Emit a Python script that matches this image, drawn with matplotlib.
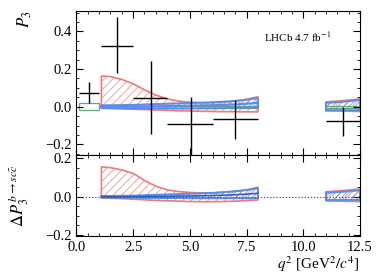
import numpy as np
import matplotlib
matplotlib.use("Agg")
import matplotlib.pyplot as plt
from matplotlib.patches import Rectangle

plt.rcParams['font.family'] = ['Liberation Serif', 'DejaVu Serif']
plt.rcParams['mathtext.fontset'] = 'stix'
plt.rcParams['hatch.linewidth'] = 0.6

# --- data ---------------------------------------------------------------
# measured P3 per q2 bin
bin_lo = [0.1, 1.1, 2.5, 4.0, 6.0, 11.0]
bin_hi = [0.98, 2.5, 4.0, 6.0, 8.0, 12.5]
q2_pt = [0.56, 1.80, 3.28, 5.03, 7.01, 11.76]
p3 = [0.074, 0.324, 0.048, -0.092, -0.067, -0.076]
p3_up = [0.059, 0.150, 0.196, 0.145, 0.103, 0.076]
p3_dn = [0.056, 0.147, 0.194, 0.200, 0.106, 0.079]

# SM binned prediction (green boxes)
sm_val = [0.0, 0.0, 0.0, 0.0, 0.0, 0.0]
sm_err = [0.018, 0.005, 0.005, 0.005, 0.005, 0.005]

# model bands, low-q2 segment
q2_a = [1.1, 1.5, 2.0, 2.5, 3.0, 3.5, 4.0, 4.5, 5.0, 5.5, 6.0, 6.5, 7.0, 7.5, 8.0]
red_up_a = [0.163, 0.160, 0.145, 0.122, 0.090, 0.062, 0.042, 0.030, 0.024, 0.021, 0.021, 0.024, 0.030, 0.040, 0.053]
red_lo_a = [-0.008, -0.009, -0.011, -0.013, -0.015, -0.017, -0.019, -0.021, -0.022, -0.024, -0.025, -0.026, -0.026, -0.027, -0.027]
blue_up_a = [0.008, 0.008, 0.009, 0.010, 0.012, 0.014, 0.016, 0.018, 0.020, 0.022, 0.024, 0.027, 0.031, 0.037, 0.045]
blue_lo_a = [-0.006, -0.007, -0.008, -0.008, -0.009, -0.009, -0.009, -0.009, -0.009, -0.008, -0.008, -0.007, -0.006, -0.005, -0.003]

# model bands, high-q2 segment
q2_b = [11.0, 11.5, 12.0, 12.5]
red_up_b = [0.026, 0.030, 0.035, 0.042]
red_lo_b = [-0.022, -0.023, -0.024, -0.025]
blue_up_b = [0.021, 0.024, 0.029, 0.036]
blue_lo_b = [-0.018, -0.018, -0.018, -0.018]

# Delta P3 (b -> s c cbar) bands
d_red_up_a = [0.156, 0.152, 0.140, 0.122, 0.085, 0.055, 0.036, 0.027, 0.022, 0.020, 0.020, 0.023, 0.028, 0.036, 0.050]
d_red_lo_a = [-0.006, -0.008, -0.010, -0.013, -0.016, -0.019, -0.021, -0.023, -0.025, -0.026, -0.026, -0.025, -0.023, -0.020, -0.017]
d_blue_up_a = [0.004, 0.004, 0.005, 0.006, 0.008, 0.010, 0.012, 0.014, 0.016, 0.018, 0.020, 0.024, 0.029, 0.035, 0.044]
d_blue_lo_a = [-0.004, -0.004, -0.005, -0.005, -0.006, -0.006, -0.007, -0.007, -0.008, -0.008, -0.008, -0.008, -0.008, -0.008, -0.008]
d_red_up_b = [0.026, 0.030, 0.035, 0.040]
d_red_lo_b = [-0.022, -0.023, -0.024, -0.025]
d_blue_up_b = [0.021, 0.024, 0.028, 0.034]
d_blue_lo_b = [-0.017, -0.017, -0.017, -0.017]

RED = '#f07878'
BLUE = '#5b8de8'
GREEN = '#5faa78'


def draw_band(ax, x, lo, hi, color, hatch, lw=1.2):
    ax.fill_between(x, lo, hi, facecolor='none', edgecolor=color,
                    hatch=hatch, linewidth=0, alpha=0.8)
    ax.fill_between(x, lo, hi, facecolor='none', edgecolor=color, linewidth=lw)
    mid = (np.array(lo) + np.array(hi)) / 2
    return mid


def style(ax):
    ax.set_xlim(0, 12.5)
    ax.tick_params(which='both', direction='in', top=True, right=True)
    ax.tick_params(which='major', length=5, labelsize=10.5)
    ax.tick_params(which='minor', length=2.5)
    ax.xaxis.set_major_locator(plt.MultipleLocator(2.5))
    ax.xaxis.set_minor_locator(plt.MultipleLocator(0.5))
    ax.yaxis.set_major_locator(plt.MultipleLocator(0.2))
    ax.yaxis.set_minor_locator(plt.MultipleLocator(0.05))


fig = plt.figure(figsize=(3.9, 2.76), dpi=100)
gs = fig.add_gridspec(2, 1, height_ratios=[144, 81], hspace=0,
                      left=0.196, right=0.923, top=0.960, bottom=0.145)
ax1 = fig.add_subplot(gs[0])
ax2 = fig.add_subplot(gs[1], sharex=ax1)

# top panel
for lo, hi, v, e in zip(bin_lo, bin_hi, sm_val, sm_err):
    ax1.add_patch(Rectangle((lo, v - e), hi - lo, 2 * e, facecolor='none',
                            edgecolor=GREEN, linewidth=0.9))
draw_band(ax1, q2_a, red_lo_a, red_up_a, RED, '////')
draw_band(ax1, q2_b, red_lo_b, red_up_b, RED, '////')
m = draw_band(ax1, q2_a, blue_lo_a, blue_up_a, BLUE, '//////', lw=1.4)
ax1.plot(q2_a, m, color=BLUE, lw=1.6)
draw_band(ax1, q2_b, blue_lo_b, blue_up_b, BLUE, '//////', lw=1.4)

xc = np.array(q2_pt)
xerr = [xc - np.array(bin_lo), np.array(bin_hi) - xc]
ax1.errorbar(xc, p3, yerr=[p3_dn, p3_up], xerr=xerr, fmt='none',
             ecolor='black', elinewidth=1.0, capsize=0)

ax1.set_ylim(-0.256, 0.508)
style(ax1)
plt.setp(ax1.get_xticklabels(), visible=False)
ax1.set_ylabel('$P_3$', loc='top', fontsize=12)
ax1.yaxis.set_label_coords(-0.15, 1.0)
ax1.text(0.78, 0.82, 'LHCb 4.7 fb$^{-1}$', transform=ax1.transAxes,
         ha='center', va='center', fontsize=8)

# bottom panel
ax2.axhline(0, color='#555555', lw=0.9, ls=(0, (1, 1.5)))
draw_band(ax2, q2_a, d_red_lo_a, d_red_up_a, RED, '////')
draw_band(ax2, q2_b, d_red_lo_b, d_red_up_b, RED, '////')
m = draw_band(ax2, q2_a, d_blue_lo_a, d_blue_up_a, BLUE, '//////', lw=1.4)
ax2.plot(q2_a, m, color='#2f5fc0', lw=1.2)
draw_band(ax2, q2_b, d_blue_lo_b, d_blue_up_b, BLUE, '//////', lw=1.4)

ax2.set_ylim(-0.205, 0.218)
style(ax2)
ax2.set_ylabel(r'$\Delta P_3^{\,b\to sc\bar{c}}$', fontsize=12)
ax2.yaxis.set_label_coords(-0.16, 0.5)
ax2.set_xlabel(r'$q^2$ [GeV$^2/c^4$]', loc='right', fontsize=11)
ax2.xaxis.set_label_coords(1.0, -0.23)

fig.savefig('out.png', dpi=100)
